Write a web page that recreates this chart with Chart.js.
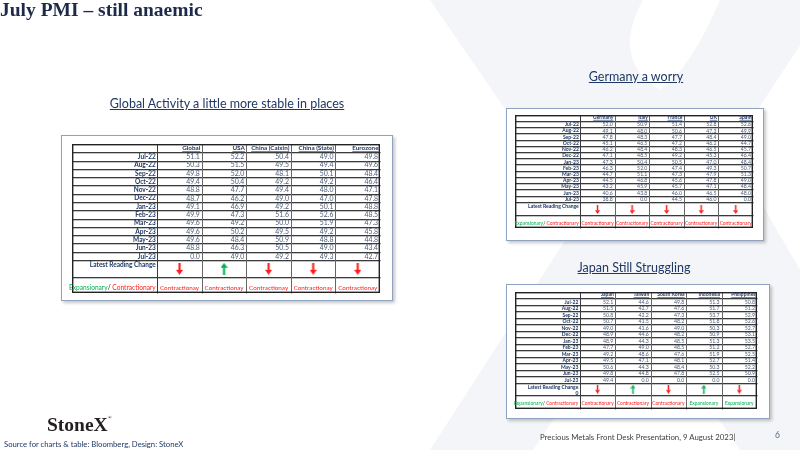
<!DOCTYPE html>
<html><head><meta charset="utf-8">
<script src="https://cdn.jsdelivr.net/npm/chart.js@4.4.1/dist/chart.umd.min.js"></script>
<style>
html,body{margin:0;padding:0;}
body{width:800px;height:450px;overflow:hidden;background:#fff;position:relative;font-family:Lato,'Liberation Sans',sans-serif;}
.abs{position:absolute;white-space:nowrap;}
#bg{position:absolute;left:0;top:0;}
.title{left:0;top:-1px;font:bold 19.5px/22px 'Liberation Serif',serif;color:#1e2a4a;}
.sub{font-size:12.5px;line-height:14px;color:#1f3864;text-decoration:underline;transform:translateX(-50%);}
.frame{position:absolute;border:1.3px solid #8fa2c0;box-shadow:2px 2px 3px rgba(0,0,0,0.22);background:#fff;box-sizing:border-box;}
canvas.tbl{position:absolute;}
.logo{left:47px;top:406px;font:bold 19.5px/24px 'Liberation Serif',serif;color:#231f20;}
.logo sup{font-size:5px;vertical-align:12px;}
.src{left:4px;top:439px;font-size:7.7px;line-height:10px;color:#1f3864;}
.foot{left:540px;top:432px;font-size:7.8px;line-height:10px;color:#404040;}
.pg{left:775px;top:430px;font-size:8.5px;line-height:10px;color:#5a6b8c;}
</style></head>
<body>
<canvas id="bg" width="800" height="450"></canvas>
<div class="abs title">July PMI – still anaemic</div>
<div class="abs sub" style="left:227px;top:97px;">Global Activity a little more stable in places</div>
<div class="abs sub" style="left:636px;top:70px;">Germany a worry</div>
<div class="abs sub" style="left:634px;top:261px;">Japan Still Struggling</div>

<div class="frame" style="left:61px;top:135px;width:332px;height:166px;"></div>
<div class="frame" style="left:506px;top:108px;width:258px;height:133px;"></div>
<div class="frame" style="left:506px;top:284px;width:264px;height:135px;"></div>

<canvas id="tGlobal" class="tbl" width="318" height="159" style="left:67px;top:139px;"></canvas>
<canvas id="tEurope" class="tbl" width="248" height="123" style="left:510px;top:110px;"></canvas>
<canvas id="tAsia" class="tbl" width="252" height="127" style="left:510px;top:287px;"></canvas>

<div class="abs logo">StoneX<sup>®</sup></div>
<div class="abs src">Source for charts &amp; table: Bloomberg, Design: StoneX</div>
<div class="abs foot">Precious Metals Front Desk Presentation, 9 August 2023|</div>
<div class="abs pg">6</div>

<script>
// ---------- DATA ----------
const months = ['Jul-22','Aug-22','Sep-22','Oct-22','Nov-22','Dec-22','Jan-23','Feb-23','Mar-23','Apr-23','May-23','Jun-23','Jul-23'];

const globalHeaders = ['Global','USA','China (Caixin)','China (State)','Eurozone'];
const pmiGlobal      = [51.1,50.3,49.8,49.4,48.8,48.7,49.1,49.9,49.6,49.6,49.6,48.8,0.0];
const pmiUSA         = [52.2,51.5,52.0,50.4,47.7,46.2,46.9,47.3,49.2,50.2,48.4,46.3,49.0];
const pmiChinaCaixin = [50.4,49.5,48.1,49.2,49.4,49.0,49.2,51.6,50.0,49.5,50.9,50.5,49.2];
const pmiChinaState  = [49.0,49.4,50.1,49.2,48.0,47.0,50.1,52.6,51.9,49.2,48.8,49.0,49.3];
const pmiEurozone    = [49.8,49.6,48.4,46.4,47.1,47.8,48.8,48.5,47.3,45.8,44.8,43.4,42.7];
const globalArrows   = ['down','up','down','down','down'];
const globalVerdicts = ['Contractionay','Contractionay','Contractionay','Contractionay','Contractionay'];

const europeHeaders  = ['Germany','Italy','France','UK','Spain'];
const pmiGermany     = [52.0,49.1,47.8,45.1,46.2,47.1,47.3,46.3,44.7,44.5,43.2,40.6,38.8];
const pmiItaly       = [50.9,48.0,48.3,46.5,48.4,48.5,50.4,52.0,51.1,46.8,45.9,43.8,0.0];
const pmiFrance      = [51.4,50.6,47.7,47.2,48.3,49.2,50.5,47.4,47.3,45.6,45.7,46.0,44.5];
const pmiUK          = [52.8,47.3,48.4,46.2,46.5,45.3,47.0,49.3,47.9,47.8,47.1,46.5,46.0];
const pmiSpain       = [52.6,49.9,49.0,44.7,45.7,46.4,48.4,50.7,51.3,49.0,48.4,48.0,0.0];
const europeArrows   = ['down','down','down','down','down'];
const europeVerdicts = ['Contractionary','Contractionary','Contractionary','Contractionary','Contractionary'];

const asiaHeaders    = ['Japan','Taiwan','South Korea','Indonesia','Philippines'];
const pmiJapan       = [52.1,51.5,50.8,50.7,49.0,48.9,48.9,47.7,49.2,49.5,50.6,49.8,49.4];
const pmiTaiwan      = [44.6,42.7,42.2,41.5,41.6,44.6,44.3,49.0,48.6,47.1,44.3,44.8,0.0];
const pmiSouthKorea  = [49.8,47.6,47.3,48.2,49.0,48.2,48.5,48.5,47.6,48.1,48.4,47.8,0.0];
const pmiIndonesia   = [51.3,51.7,53.7,51.8,50.3,50.9,51.3,51.2,51.9,52.7,50.3,52.5,0.0];
const pmiPhilippines = [50.8,51.2,52.9,52.6,52.7,53.1,53.5,52.7,52.5,51.4,52.2,50.9,0.0];
const asiaArrows     = ['down','up','down','up','down'];
const asiaVerdicts   = ['Contractionary','Contractionary','Contractionary','Expansionary','Expansionary'];

const changeLabel = 'Latest Reading Change';
const legendParts = ['Expansionary','/ ','Contractionary'];

// ---------- STYLE ----------
const C = {navy:'#1f3864', value:'#4a5a78', red:'#ff1a1a', green:'#00b050', grid:'#3a3a3a', light:'#c4c4c4'};
const FONT = "Lato, 'Liberation Sans', sans-serif";

// ---------- background watermark ----------
(function(){
  const c = document.getElementById('bg').getContext('2d');
  c.fillStyle = '#f4f5f8';
  c.beginPath(); c.moveTo(430,0); c.lineTo(643,0); c.lineTo(905,450); c.lineTo(740,450); c.closePath(); c.fill();
  c.beginPath(); c.moveTo(720,0); c.lineTo(830,0); c.lineTo(533,450); c.lineTo(430,450); c.closePath(); c.fill();
  c.fillStyle = '#fff';
  c.beginPath(); c.moveTo(643,0); c.lineTo(720,0); c.quadraticCurveTo(690,70,660,90); c.quadraticCurveTo(610,60,643,0); c.fill();
})();

function arrowImage(dir, h){
  const w = Math.round(h*0.55);
  const cv = document.createElement('canvas'); cv.width = w; cv.height = h;
  const g = cv.getContext('2d');
  g.fillStyle = dir === 'down' ? C.red : C.green;
  const sw = Math.max(1.5, w*0.3), hh = h*0.42;
  g.save();
  if (dir === 'up'){ g.translate(0,h); g.scale(1,-1); }
  g.fillRect((w-sw)/2, 0, sw, h-hh);
  g.beginPath(); g.moveTo(0,h-hh); g.lineTo(w,h-hh); g.lineTo(w/2,h); g.closePath(); g.fill();
  g.restore();
  return cv;
}

const tablePlugin = {
  id:'pmiTable',
  beforeDatasetsDraw(chart){
    const L = chart.options.plugins.pmiTable;
    const {ctx, scales:{x,y}} = chart;
    const X = v => Math.round(x.getPixelForValue(v))+0.5, Y = v => Math.round(y.getPixelForValue(v))+0.5;
    const n = L.rows.length;
    ctx.save();
    const hs = [-0.5]; for (let i=0;i<n;i++) hs.push(i+0.5); hs.push(L.arrowBottom);
    ctx.lineWidth = 1;
    hs.forEach(v=>{
      ctx.strokeStyle = C.light; ctx.beginPath(); ctx.moveTo(X(L.xMin), Y(v)+1); ctx.lineTo(X(L.xMax), Y(v)+1); ctx.stroke();
      ctx.strokeStyle = C.grid; ctx.beginPath(); ctx.moveTo(X(L.xMin), Y(v)); ctx.lineTo(X(L.xMax), Y(v)); ctx.stroke();
    });
    for (let j=0;j<L.headers.length;j++){
      const v = j-0.5;
      ctx.strokeStyle = j===0 ? C.grid : '#666';
      ctx.beginPath(); ctx.moveTo(X(v), Y(L.yMin)); ctx.lineTo(X(v), Y(L.yMax)); ctx.stroke();
    }
    ctx.lineWidth = 1.4; ctx.strokeStyle = '#222';
    const a = chart.chartArea;
    ctx.strokeRect(a.left+0.7, a.top+0.7, a.right-a.left-1.4, a.bottom-a.top-1.4);
    ctx.restore();
  },
  afterDatasetsDraw(chart){
    const L = chart.options.plugins.pmiTable;
    const {ctx, scales:{x,y}} = chart;
    const X = v => x.getPixelForValue(v), Y = v => y.getPixelForValue(v);
    const colW = X(0.5)-X(-0.5);
    const labelRight = X(-0.5)-1.5;
    ctx.save();
    ctx.font = `bold ${L.fs.label}px ${FONT}`; ctx.fillStyle = C.navy; ctx.textAlign='right'; ctx.textBaseline='middle';
    L.rows.forEach((m,i)=> ctx.fillText(m, labelRight, Y(i)+0.5));
    ctx.font = `bold ${L.fs.header}px ${FONT}`; ctx.textBaseline='alphabetic';
    L.headers.forEach((h,j)=>{
      const r = X(j)+colW/2-1.5, b = Y(-0.5)-2;
      ctx.fillText(h, r, b);
      const w = ctx.measureText(h).width;
      ctx.fillRect(r-w, b+0.8, w, 0.6);
    });
    chart.data.datasets.forEach((ds, di)=>{
      const meta = chart.getDatasetMeta(di);
      if (ds.kind === 'value'){
        ctx.font = `${L.fs.value}px ${FONT}`; ctx.fillStyle = C.value; ctx.textAlign='right'; ctx.textBaseline='middle';
        meta.data.forEach((el,i)=> ctx.fillText(ds.data[i].v.toFixed(1), el.x+colW/2-2, el.y+0.5));
      } else if (ds.kind === 'verdict'){
        ctx.font = `${L.fs.verdict}px ${FONT}`; ctx.textAlign='center'; ctx.textBaseline='alphabetic';
        meta.data.forEach((el,i)=>{
          const t = ds.data[i].t;
          ctx.fillStyle = t.startsWith('Exp') ? C.green : C.red;
          ctx.fillText(t, el.x, el.y);
        });
      }
    });
    ctx.font = `bold ${L.fs.label}px ${FONT}`; ctx.fillStyle = C.navy; ctx.textAlign='right'; ctx.textBaseline='top';
    ctx.fillText(changeLabel, labelRight, Y(L.rows.length-0.5)+2);
    if (L.note) ctx.fillText(L.note, labelRight, Y(L.rows.length-0.5)+2+L.fs.label*1.25);
    ctx.font = `${L.fs.legend}px ${FONT}`; ctx.textBaseline='alphabetic'; ctx.textAlign='left';
    const cols = [C.green, '#222', C.red];
    const ws = legendParts.map(p=>ctx.measureText(p).width);
    let px = labelRight - ws.reduce((s,w)=>s+w,0);
    const vy = Y(L.verdictRow);
    legendParts.forEach((p,k)=>{ ctx.fillStyle = cols[k]; ctx.fillText(p, px, vy); px += ws[k]; });
    ctx.restore();
  }
};

function makeTable(id, headers, series, arrows, verdicts, lay){
  const imgs = {down: arrowImage('down', lay.arrowH), up: arrowImage('up', lay.arrowH)};
  const datasets = series.map((vals,j)=>({
    kind:'value', label: headers[j], pointRadius:0,
    data: vals.map((v,i)=>({x:j, y:i, v}))
  }));
  datasets.push({
    kind:'arrow', label:'change', pointRadius:4,
    pointStyle: ctx => imgs[arrows[ctx.dataIndex]],
    data: arrows.map((a,j)=>({x:j, y:lay.arrowY}))
  });
  datasets.push({
    kind:'verdict', label:'verdict', pointRadius:0,
    data: verdicts.map((t,j)=>({x:j, y:lay.verdictRow, t}))
  });
  return new Chart(document.getElementById(id), {
    type:'scatter',
    data:{datasets},
    options:{
      responsive:false, animation:false, events:[],
      layout:{padding:0},
      scales:{
        x:{type:'linear', min:lay.xMin, max:lay.xMax, display:false},
        y:{type:'linear', min:lay.yMin, max:lay.yMax, reverse:true, display:false}
      },
      plugins:{
        legend:{display:false}, tooltip:{enabled:false},
        pmiTable: Object.assign({rows: months, headers}, lay)
      }
    },
    plugins:[tablePlugin]
  });
}

makeTable('tGlobal', globalHeaders,
  [pmiGlobal, pmiUSA, pmiChinaCaixin, pmiChinaState, pmiEurozone],
  globalArrows, globalVerdicts,
  {xMin:-2.413, xMax:4.5, yMin:-1.5, yMax:16.47, arrowBottom:14.52, arrowY:13.55, verdictRow:16.05, arrowH:12,
   fs:{label:6.5, header:6.3, value:6.9, verdict:6.3, legend:6.6}});

makeTable('tEurope', europeHeaders,
  [pmiGermany, pmiItaly, pmiFrance, pmiUK, pmiSpain],
  europeArrows, europeVerdicts,
  {xMin:-2.39, xMax:4.5, yMin:-1.48, yMax:16.74, arrowBottom:14.67, arrowY:13.75, verdictRow:16.2, arrowH:9,
   fs:{label:5, header:5, value:5.2, verdict:4.9, legend:4.9}});

makeTable('tAsia', asiaHeaders,
  [pmiJapan, pmiTaiwan, pmiSouthKorea, pmiIndonesia, pmiPhilippines],
  asiaArrows, asiaVerdicts,
  {xMin:-2.33, xMax:4.5, yMin:-1.45, yMax:16.49, arrowBottom:14.3, arrowY:13.45, verdictRow:15.9, arrowH:9, note:'0',
   fs:{label:5, header:5, value:5.2, verdict:4.9, legend:4.9}});
</script>
</body></html>
